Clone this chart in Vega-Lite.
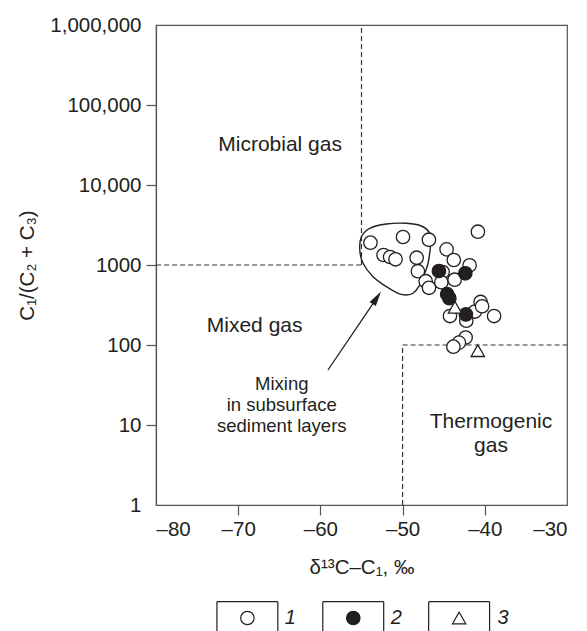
{
  "$schema": "https://vega.github.io/schema/vega-lite/v6.json",
  "width": 411,
  "height": 480,
  "autosize": "none",
  "padding": {"left": 156, "top": 25, "right": 20, "bottom": 126},
  "background": "white",
  "config": {
    "font": "Liberation Sans",
    "view": {"stroke": "#555", "strokeWidth": 1.2},
    "axis": {
      "domainColor": "#555", "domainWidth": 1.2, "tickColor": "#555", "tickWidth": 1.2,
      "labelColor": "#231f20", "labelFont": "Liberation Sans", "labelFontSize": 20.5,
      "titleColor": "#231f20", "titleFont": "Liberation Sans", "titleFontSize": 20.5, "titleFontWeight": "normal",
      "grid": false, "tickSize": 10
    }
  },
  "datasets": {
    "dashes": [
      {"x": -55, "y": 1000, "x2": -55, "y2": 1000000},
      {"x": -80, "y": 1000, "x2": -55, "y2": 1000},
      {"x": -50, "y": 100, "x2": -30, "y2": 100},
      {"x": -50, "y": 1, "x2": -50, "y2": 100}
    ],
    "blob": [
      {"o": 1, "x": -55.01, "y": 2259}, {"o": 2, "x": -54.0, "y": 2877}, {"o": 3, "x": -51.97, "y": 3255},
      {"o": 4, "x": -49.54, "y": 3319}, {"o": 5, "x": -47.72, "y": 3073}, {"o": 6, "x": -46.71, "y": 2489},
      {"o": 7, "x": -46.62, "y": 1694}, {"o": 8, "x": -46.91, "y": 1050}, {"o": 9, "x": -47.31, "y": 787},
      {"o": 10, "x": -47.92, "y": 562}, {"o": 11, "x": -48.74, "y": 443}, {"o": 12, "x": -49.54, "y": 422},
      {"o": 13, "x": -50.56, "y": 443}, {"o": 14, "x": -51.97, "y": 536}, {"o": 15, "x": -53.6, "y": 714},
      {"o": 16, "x": -54.81, "y": 1050}, {"o": 17, "x": -55.21, "y": 1540}
    ],
    "arrow": [{"x": -59.08, "y": 48.7, "x2": -53.13, "y2": 389}],
    "arrowhead": [{"x": -53.13, "y": 389}],
    "points": [
      {"x": -53.91, "y": 1901, "type": "1"}, {"x": -49.95, "y": 2239, "type": "1"}, {"x": -46.80, "y": 2070, "type": "1"},
      {"x": -40.84, "y": 2607, "type": "1"}, {"x": -52.32, "y": 1334, "type": "1"}, {"x": -51.52, "y": 1259, "type": "1"},
      {"x": -50.86, "y": 1178, "type": "1"}, {"x": -48.29, "y": 1234, "type": "1"}, {"x": -48.14, "y": 836, "type": "1"},
      {"x": -44.65, "y": 1570, "type": "1"}, {"x": -43.77, "y": 1155, "type": "1"}, {"x": -41.85, "y": 991, "type": "1"},
      {"x": -45.13, "y": 817, "type": "1"}, {"x": -47.19, "y": 627, "type": "1"}, {"x": -46.79, "y": 519, "type": "1"},
      {"x": -45.29, "y": 610, "type": "1"}, {"x": -43.67, "y": 655, "type": "1"}, {"x": -44.24, "y": 230, "type": "1"},
      {"x": -42.25, "y": 201, "type": "1"}, {"x": -41.2, "y": 262, "type": "1"}, {"x": -40.51, "y": 345, "type": "1"},
      {"x": -40.33, "y": 305, "type": "1"}, {"x": -38.87, "y": 230, "type": "1"}, {"x": -42.33, "y": 124, "type": "1"},
      {"x": -43.15, "y": 107, "type": "1"}, {"x": -43.82, "y": 95.3, "type": "1"},
      {"x": -45.58, "y": 841, "type": "2"}, {"x": -42.37, "y": 788, "type": "2"}, {"x": -44.58, "y": 432, "type": "2"},
      {"x": -44.31, "y": 384, "type": "2"}, {"x": -42.30, "y": 241, "type": "2"},
      {"x": -43.63, "y": 296, "type": "3"}, {"x": -40.85, "y": 84.9, "type": "3"}
    ],
    "bigLabels": [
      {"x": -64.9, "y": 31623, "t": "Microbial gas"},
      {"x": -68.0, "y": 172.8, "t": "Mixed gas"},
      {"x": -39.25, "y": 10.9, "t": "Thermogenic\ngas"}
    ],
    "mixLabel": [{"x": -64.7, "y": 32.5, "t": "Mixing\nin subsurface\nsediment layers"}],
    "legendLines": [
      {"x": -72.59, "y": 0.0618, "x2": -65.18, "y2": 0.0618}, {"x": -72.59, "y": 0.0618, "x2": -72.59, "y2": 0.02}, {"x": -65.18, "y": 0.0618, "x2": -65.18, "y2": 0.02},
      {"x": -59.71, "y": 0.0618, "x2": -52.30, "y2": 0.0618}, {"x": -59.71, "y": 0.0618, "x2": -59.71, "y2": 0.02}, {"x": -52.30, "y": 0.0618, "x2": -52.30, "y2": 0.02},
      {"x": -46.83, "y": 0.0618, "x2": -39.42, "y2": 0.0618}, {"x": -46.83, "y": 0.0618, "x2": -46.83, "y2": 0.02}, {"x": -39.42, "y": 0.0618, "x2": -39.42, "y2": 0.02}
    ],
    "legendSymbols": [
      {"x": -68.88, "y": 0.0387, "type": "1"}, {"x": -56.0, "y": 0.0387, "type": "2"}, {"x": -43.12, "y": 0.0387, "type": "3"}
    ],
    "legendText": [
      {"x": -64.33, "y": 0.0387, "t": "1"}, {"x": -51.45, "y": 0.0387, "t": "2"}, {"x": -38.44, "y": 0.0387, "t": "3"}
    ]
  },
  "encoding": {
    "x": {
      "field": "x", "type": "quantitative",
      "scale": {"domain": [-80, -30], "nice": false, "zero": false},
      "axis": {
        "values": [-80, -70, -60, -50, -40, -30],
        "title": "δ¹³C–C₁, ‰",
        "labelExpr": "datum.value < 0 ? '–' + abs(datum.value) : datum.label",
        "labelPadding": 4, "titlePadding": 18,
        "tickOpacity": {"condition": {"test": "datum.value == -80 || datum.value == -30", "value": 0}, "value": 1}
      }
    },
    "y": {
      "field": "y", "type": "quantitative",
      "scale": {"type": "log", "domain": [1, 1000000], "nice": false},
      "axis": {
        "values": [1, 10, 100, 1000, 10000, 100000, 1000000],
        "title": "C₁/(C₂ + C₃)",
        "labelExpr": "datum.value == 1000 ? '1000' : format(datum.value, ',')",
        "labelPadding": 5, "titlePadding": 12,
        "tickOpacity": {"condition": {"test": "datum.value == 1 || datum.value == 1000000", "value": 0}, "value": 1}
      }
    }
  },
  "layer": [
    {
      "data": {"name": "dashes"},
      "mark": {"type": "rule", "strokeDash": [5, 3], "color": "#333", "strokeWidth": 1.2},
      "encoding": {"x2": {"field": "x2"}, "y2": {"field": "y2"}}
    },
    {
      "data": {"name": "blob"},
      "mark": {"type": "line", "interpolate": "cardinal-closed", "color": "#231f20", "strokeWidth": 1.4},
      "encoding": {"order": {"field": "o", "type": "quantitative"}}
    },
    {
      "data": {"name": "arrow"},
      "mark": {"type": "rule", "color": "#231f20", "strokeWidth": 1.3},
      "encoding": {"x2": {"field": "x2"}, "y2": {"field": "y2"}}
    },
    {
      "data": {"name": "arrowhead"},
      "mark": {"type": "point", "shape": "M0,-1L0.5,1L-0.5,1Z", "filled": true, "color": "#231f20", "size": 225, "angle": 34, "opacity": 1},
      "encoding": {}
    },
    {
      "data": {"name": "points"},
      "mark": {"type": "point", "filled": true, "strokeWidth": 1.3, "opacity": 1, "stroke": "#231f20"},
      "encoding": {
        "shape": {"field": "type", "type": "nominal", "scale": {"domain": ["1", "2", "3"], "range": ["circle", "circle", "triangle-up"]}, "legend": null},
        "fill": {"field": "type", "type": "nominal", "scale": {"domain": ["1", "2", "3"], "range": ["white", "#231f20", "white"]}, "legend": null},
        "size": {"field": "type", "type": "nominal", "scale": {"domain": ["1", "2", "3"], "range": [180, 180, 160]}, "legend": null}
      }
    },
    {
      "data": {"name": "bigLabels"},
      "mark": {"type": "text", "fontSize": 21, "color": "#231f20", "align": "center", "baseline": "middle", "lineBreak": "\n", "lineHeight": 24},
      "encoding": {"text": {"field": "t"}}
    },
    {
      "data": {"name": "mixLabel"},
      "mark": {"type": "text", "fontSize": 18.5, "color": "#231f20", "align": "center", "baseline": "middle", "lineBreak": "\n", "lineHeight": 21},
      "encoding": {"text": {"field": "t"}}
    },
    {
      "data": {"name": "legendLines"},
      "mark": {"type": "rule", "color": "#231f20", "strokeWidth": 1.2},
      "encoding": {"x2": {"field": "x2"}, "y2": {"field": "y2"}}
    },
    {
      "data": {"name": "legendSymbols"},
      "mark": {"type": "point", "filled": true, "strokeWidth": 1.2, "opacity": 1, "stroke": "#231f20"},
      "encoding": {
        "shape": {"field": "type", "type": "nominal", "legend": null},
        "fill": {"field": "type", "type": "nominal", "legend": null},
        "size": {"field": "type", "type": "nominal", "scale": {"domain": ["1", "2", "3"], "range": [120, 120, 130]}, "legend": null}
      }
    },
    {
      "data": {"name": "legendText"},
      "mark": {"type": "text", "fontSize": 20, "fontStyle": "italic", "color": "#231f20", "align": "left", "baseline": "middle"},
      "encoding": {"text": {"field": "t"}}
    }
  ]
}
